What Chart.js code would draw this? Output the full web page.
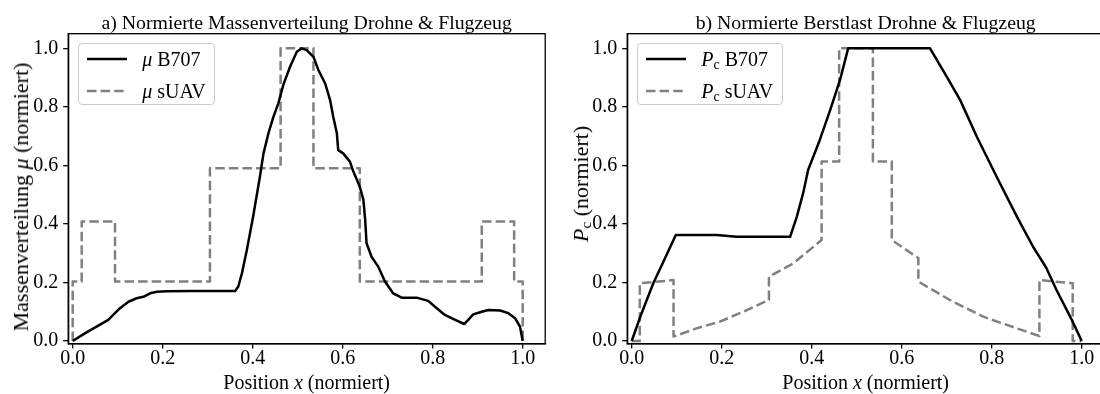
<!DOCTYPE html>
<html><head><meta charset="utf-8">
<script src="https://cdn.jsdelivr.net/npm/chart.js@4.4.0/dist/chart.umd.min.js"></script>
<style>
html,body{margin:0;padding:0;background:#fff;}
#wrap{position:relative;width:1100px;height:394px;overflow:hidden;background:#fff;font-family:'Liberation Serif','Times New Roman',serif;color:#000;}
canvas{position:absolute;top:0;}
.t{position:absolute;white-space:nowrap;font-size:20px;line-height:20px;}
.ttl{font-size:19.8px;}
.yl{font-size:22px;line-height:22px;}
.sub{font-size:0.7em;position:relative;top:0.22em;}
.rot{transform:translate(-50%,-50%) rotate(-90deg);}
.leg{position:absolute;border:1px solid #cccccc;border-radius:4px;background:rgba(255,255,255,0.8);box-sizing:border-box;}
.row{position:absolute;left:0;white-space:nowrap;font-size:20px;line-height:20px;}
.row svg{position:absolute;left:8px;top:0;}
.row span.lab{position:absolute;top:0;}
</style></head>
<body><div id="wrap">
<canvas id="c1" width="550" height="394" style="left:0"></canvas>
<canvas id="c2" width="570" height="394" style="left:550px"></canvas>
</div>
<script>
// ---- data ----
const xTicks = [0, 0.2, 0.4, 0.6, 0.8, 1.0];
const yTicks = [0, 0.2, 0.4, 0.6, 0.8, 1.0];

const muB707X = [0,0.027,0.079,0.090,0.105,0.124,0.142,0.157,0.172,0.187,0.209,0.268,0.361,0.368,0.376,0.387,0.401,0.416,0.424,0.435,0.446,0.457,0.468,0.483,0.498,0.509,0.520,0.535,0.546,0.561,0.572,0.579,0.587,0.590,0.601,0.616,0.624,0.638,0.646,0.650,0.653,0.664,0.679,0.694,0.712,0.731,0.764,0.790,0.809,0.827,0.850,0.870,0.879,0.890,0.909,0.924,0.950,0.968,0.983,0.994,1.0];
const muB707Y = [0,0.026,0.072,0.089,0.112,0.134,0.146,0.151,0.163,0.168,0.170,0.171,0.171,0.186,0.231,0.311,0.425,0.561,0.641,0.710,0.766,0.812,0.875,0.937,0.988,1.0,0.994,0.971,0.926,0.880,0.823,0.766,0.710,0.652,0.641,0.613,0.578,0.527,0.482,0.413,0.334,0.288,0.254,0.203,0.163,0.148,0.148,0.137,0.112,0.089,0.072,0.058,0.072,0.091,0.100,0.106,0.104,0.095,0.078,0.049,0.0];

const muSUAVX = [0,0,0.02,0.02,0.094,0.094,0.305,0.305,0.462,0.462,0.535,0.535,0.638,0.638,0.909,0.909,0.981,0.981,1.0,1.0];
const muSUAVY = [0,0.203,0.203,0.408,0.408,0.203,0.203,0.59,0.59,1.0,1.0,0.59,0.59,0.203,0.203,0.408,0.408,0.203,0.203,0];

const pcB707X = [0,0.022,0.048,0.074,0.098,0.189,0.233,0.352,0.367,0.381,0.392,0.418,0.441,0.463,0.481,0.663,0.700,0.730,0.767,0.811,0.856,0.892,0.922,0.944,0.978,1.0];
const pcB707Y = [0,0.095,0.197,0.283,0.362,0.362,0.356,0.356,0.425,0.505,0.584,0.687,0.789,0.892,1.0,1.0,0.903,0.823,0.698,0.561,0.425,0.322,0.248,0.174,0.072,0];

const pcSUAVX = [0,0.018,0.018,0.093,0.093,0.144,0.196,0.248,0.305,0.305,0.359,0.422,0.422,0.461,0.461,0.536,0.536,0.578,0.578,0.637,0.637,0.707,0.781,0.856,0.906,0.906,0.980,0.980,1.0];
const pcSUAVY = [0,0,0.197,0.208,0.015,0.043,0.066,0.100,0.140,0.220,0.265,0.345,0.613,0.613,1.0,1.0,0.613,0.613,0.345,0.283,0.203,0.140,0.083,0.043,0.017,0.208,0.197,0,0];

const titles = ['a) Normierte Massenverteilung Drohne &amp; Flugzeug', 'b) Normierte Berstlast Drohne &amp; Flugzeug'];
const xLabel = 'Position <i>x</i> (normiert)';
const yLabels = ['Massenverteilung <i>μ</i> (normiert)', '<i>P</i><span class="sub">c</span> (normiert)'];
const legendLabels1 = ['<i>μ</i> B707', '<i>μ</i> sUAV'];
const legendLabels2 = ['<i>P</i><span class="sub">c</span> B707', '<i>P</i><span class="sub">c</span> sUAV'];

// ---- chart ----
const FONT = "'Liberation Serif','Times New Roman',serif";
function pts(xs, ys) { return xs.map((x, i) => ({x: x, y: ys[i]})); }
const solidStyle = {borderColor:'#000000', borderWidth:2.5, borderDash:[], pointRadius:0, tension:0, fill:false, borderJoinStyle:'round', borderCapStyle:'butt'};
const dashStyle = {borderColor:'#808080', borderWidth:2.5, borderDash:[9.5,4.1], pointRadius:0, tension:0, fill:false, borderJoinStyle:'round', borderCapStyle:'butt'};

const frame = {id:'frame', afterDatasetsDraw(chart){
  const a = chart.chartArea, c = chart.ctx;
  c.save(); c.strokeStyle = '#000'; c.lineWidth = 1.3;
  c.strokeRect(a.left, a.top, a.right - a.left, a.bottom - a.top);
  c.restore();
}};

function axis(fitFn, pad, tl) {
  return {
    type:'linear', min:-0.01, max:1.05,
    afterFit: fitFn,
    grid:{drawOnChartArea:false, drawTicks:true, tickLength:tl, color:'#000', lineWidth:1.3},
    border:{display:true, color:'#000', width:1.3},
    ticks:{color:'#000', font:{family:FONT, size:20, lineHeight:1}, padding:pad, maxRotation:0, autoSkip:false,
           callback:(v) => Number(v).toFixed(1)}
  };
}

function makeChart(id, datasets, yWidth, padRight) {
  const xs = axis(s => { s.height = 50.1; }, 0, 4.5);
  xs.afterBuildTicks = s => { s.ticks = xTicks.map(v => ({value:v})); };
  const ys = axis(s => { s.width = yWidth; }, 5, 5);
  ys.afterBuildTicks = s => { s.ticks = yTicks.map(v => ({value:v})); };
  return new Chart(document.getElementById(id), {
    type:'line',
    data:{datasets},
    options:{
      responsive:false, animation:false, events:[],
      layout:{padding:{top:33.7, right:padRight, bottom:0, left:0}},
      plugins:{legend:{display:false}, tooltip:{enabled:false}, title:{display:false}},
      scales:{x:xs, y:ys}
    },
    plugins:[frame]
  });
}

const ch1 = makeChart('c1', [
  Object.assign({label:'μ B707', data:pts(muB707X, muB707Y)}, solidStyle),
  Object.assign({label:'μ sUAV', data:pts(muSUAVX, muSUAVY)}, dashStyle)
], 68.2, 4.8);
const ch2 = makeChart('c2', [
  Object.assign({label:'Pc B707', data:pts(pcB707X, pcB707Y)}, solidStyle),
  Object.assign({label:'Pc sUAV', data:pts(pcSUAVX, pcSUAVY)}, dashStyle)
], 77.2, 15.8);

// ---- text overlays ----
const wrap = document.getElementById('wrap');
function addDiv(html, css, cls) {
  const d = document.createElement('div');
  d.className = cls || 't';
  d.innerHTML = html;
  Object.assign(d.style, css);
  wrap.appendChild(d);
  return d;
}
function decorate(chart, offX, idx, legendLabels, legendWidth, ylabX, ylabShift) {
  const a = chart.chartArea;
  const L = offX + a.left, R = offX + a.right;
  const cx = (L + R) / 2;
  addDiv(titles[idx], {left:(cx - 300) + 'px', width:'600px', textAlign:'center', top:'12px'}, 't ttl');
  addDiv(xLabel, {left:(cx - 200) + 'px', width:'400px', textAlign:'center', top:'372px'});
  addDiv(yLabels[idx], {left:ylabX + 'px', top:((a.top + a.bottom) / 2 + ylabShift) + 'px'}, 't yl rot');
  // legend
  const leg = addDiv('', {left:(L + 10) + 'px', top:(a.top + 9.6) + 'px', width:legendWidth + 'px', height:'62px'}, 'leg');
  chart.data.datasets.forEach((ds, i) => {
    const row = document.createElement('div');
    row.className = 'row';
    row.style.top = (5 + i * 31.7) + 'px';
    row.style.width = '100%';
    row.style.height = '20px';
    const dash = ds.borderDash && ds.borderDash.length ? ds.borderDash.join(',') : 'none';
    row.innerHTML = '<svg width="42" height="20"><line x1="0" y1="10" x2="40" y2="10" stroke="' + ds.borderColor +
      '" stroke-width="' + ds.borderWidth + '" stroke-dasharray="' + dash + '"/></svg>' +
      '<span class="lab" style="left:63px">' + legendLabels[i] + '</span>';
    leg.appendChild(row);
  });
}
decorate(ch1, 0, 0, legendLabels1, 137, 21, 8);
decorate(ch2, 550, 1, legendLabels2, 146, 582, -5);
</script>
</body></html>
